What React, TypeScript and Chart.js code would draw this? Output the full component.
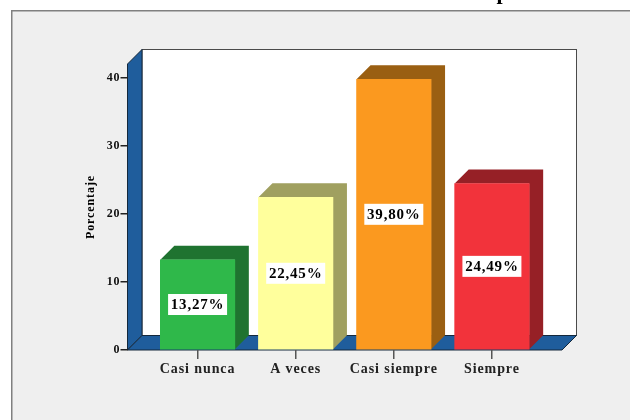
import React, { useEffect, useRef } from "react";
import { Chart, registerables } from "chart.js";

Chart.register(...registerables);

const categories = ["Casi nunca", "A veces", "Casi siempre", "Siempre"];
const values = [13.27, 22.45, 39.8, 24.49];
const labels = ["13,27%", "22,45%", "39,80%", "24,49%"];
const frontColors = ["#2fb84a", "#ffff9c", "#fb991f", "#f2333b"];
const sideColors = ["#1f7330", "#a0a060", "#9a5f12", "#962026"];
const yTicks = [0, 10, 20, 30, 40];
const titleFragment = "p";
const yTitle = "Porcentaje";

const SERIF = '"Liberation Serif", serif';
const DEPTH = 14.5;
const BAR_DEPTH = 14;

const scene = {
  id: "scene",
  beforeDraw(chart: any) {
    const { ctx, chartArea: a, width, height } = chart;
    ctx.letterSpacing = "0.9px";
    ctx.save();
    ctx.fillStyle = "#ffffff";
    ctx.fillRect(0, 0, width, height);
    ctx.fillStyle = "#efefef";
    ctx.fillRect(11, 10, width - 11, height - 10);
    ctx.fillStyle = "#808080";
    ctx.fillRect(11, 10, width - 11, 1.5);
    ctx.fillRect(11, 10, 1.5, height - 10);
    ctx.fillStyle = "#000";
    ctx.font = `bold 22px ${SERIF}`;
    ctx.textAlign = "center";
    ctx.textBaseline = "alphabetic";
    ctx.fillText(titleFragment, 503, -1);

    const l = a.left, r = a.right, t = a.top, b = a.bottom;
    ctx.fillStyle = "#ffffff";
    ctx.fillRect(l + DEPTH, t - DEPTH, r - l, b - t);
    ctx.strokeStyle = "#4a4a4a";
    ctx.lineWidth = 1;
    ctx.strokeRect(l + DEPTH, t - DEPTH, r - l, b - t);
    ctx.fillStyle = "#1f5d9c";
    ctx.strokeStyle = "#14283c";
    ctx.beginPath();
    ctx.moveTo(l, t);
    ctx.lineTo(l + DEPTH, t - DEPTH);
    ctx.lineTo(l + DEPTH, b - DEPTH);
    ctx.lineTo(l, b);
    ctx.closePath();
    ctx.fill();
    ctx.stroke();
    ctx.beginPath();
    ctx.moveTo(l, b);
    ctx.lineTo(l + DEPTH, b - DEPTH);
    ctx.lineTo(r + DEPTH, b - DEPTH);
    ctx.lineTo(r, b);
    ctx.closePath();
    ctx.fill();
    ctx.stroke();
    ctx.restore();
  },
  beforeDatasetsDraw(chart: any) {
    const { ctx } = chart;
    ctx.save();
    chart.getDatasetMeta(0).data.forEach((bar: any, i: number) => {
      const p = bar.getProps(["x", "y", "base", "width"], true);
      const x0 = p.x - p.width / 2, x1 = p.x + p.width / 2;
      ctx.fillStyle = sideColors[i];
      ctx.beginPath();
      ctx.moveTo(x0, p.y);
      ctx.lineTo(x0 + BAR_DEPTH, p.y - BAR_DEPTH);
      ctx.lineTo(x1 + BAR_DEPTH, p.y - BAR_DEPTH);
      ctx.lineTo(x1 + BAR_DEPTH, p.base - BAR_DEPTH);
      ctx.lineTo(x1, p.base);
      ctx.lineTo(x1, p.y);
      ctx.closePath();
      ctx.fill();
    });
    ctx.restore();
  },
  afterDatasetsDraw(chart: any) {
    const { ctx } = chart;
    ctx.save();
    ctx.font = `bold 15px ${SERIF}`;
    ctx.letterSpacing = "0.8px";
    ctx.textAlign = "center";
    ctx.textBaseline = "middle";
    chart.getDatasetMeta(0).data.forEach((bar: any, i: number) => {
      const p = bar.getProps(["x", "y", "base"], true);
      const cy = (p.y + p.base) / 2;
      ctx.fillStyle = "#ffffff";
      ctx.fillRect(p.x - 29.5, cy - 10.5, 59, 21);
      ctx.fillStyle = "#000000";
      ctx.fillText(labels[i], p.x, cy + 0.5);
    });
    ctx.restore();
  },
};

export default function App() {
  const ref = useRef<HTMLCanvasElement>(null);
  useEffect(() => {
    const chart = new Chart(ref.current!, {
      type: "bar",
      data: {
        datasets: [
          {
            data: values.map((y, x) => ({ x, y })),
            backgroundColor: frontColors,
            borderWidth: 0,
            barThickness: 74.5,
          },
        ],
      },
      options: {
        responsive: false,
        animation: false,
        devicePixelRatio: 1,
        layout: { padding: { left: 84, top: 64, right: 68, bottom: 0 } },
        plugins: { legend: { display: false }, tooltip: { enabled: false }, title: { display: false } },
        scales: {
          x: {
            type: "linear",
            offset: false,
            min: -0.7143,
            max: 3.7143,
            grid: { display: true, offset: false, drawOnChartArea: false, drawTicks: true, tickLength: 9, color: "#555555", lineWidth: 1.5 },
            border: { display: false },
            afterBuildTicks: (s: any) => {
              s.ticks = categories.map((_, value) => ({ value }));
            },
            ticks: {
              autoSkip: false,
              maxRotation: 0,
              padding: 2,
              color: "#222222",
              font: { family: SERIF, weight: "bold", size: 14 },
              callback: (v: any) => categories[v],
            },
            afterFit: (s: any) => {
              s.height = 70;
            },
          },
          y: {
            min: 0,
            max: 42.06,
            grid: { display: true, drawOnChartArea: false, tickLength: 7, color: "#222222", lineWidth: 1.5 },
            border: { display: false },
            afterBuildTicks: (s: any) => {
              s.ticks = yTicks.map((value) => ({ value }));
            },
            ticks: {
              padding: 0,
              color: "#111111",
              font: { family: SERIF, weight: "bold", size: 12 },
            },
            title: {
              display: true,
              text: yTitle,
              color: "#000000",
              font: { family: SERIF, weight: "bold", size: 12 },
              padding: 0,
            },
            afterFit: (s: any) => {
              s.width = 43.5;
            },
          },
        },
      },
      plugins: [scene],
    } as any);
    return () => chart.destroy();
  }, []);
  return (
    <div style={{ position: "absolute", left: 0, top: 0, width: 630, height: 420 }}>
      <canvas ref={ref} width={630} height={420} style={{ display: "block", width: 630, height: 420 }} />
    </div>
  );
}
